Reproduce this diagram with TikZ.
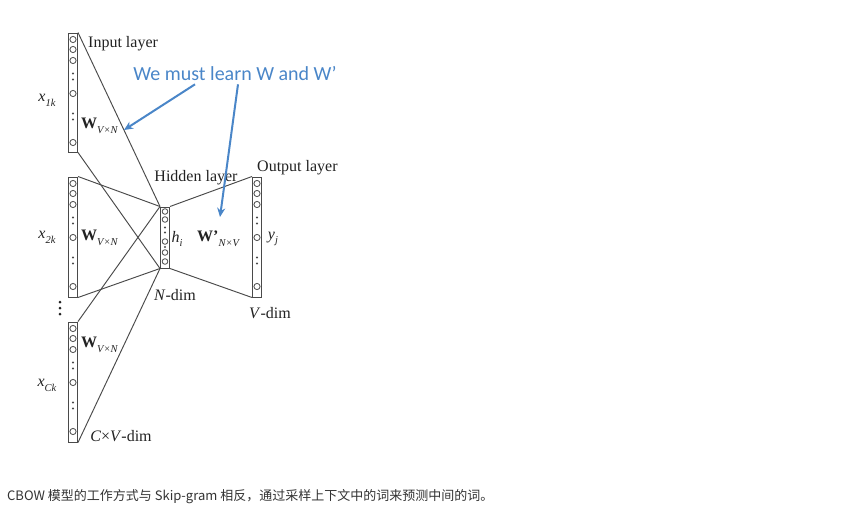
\documentclass[tikz,border=0pt]{standalone}
\usepackage{fontspec}
\setmainfont{Liberation Serif}
\newfontfamily\calib{Carlito}
\newfontfamily\cjk{Noto Sans CJK SC}
\usetikzlibrary{arrows.meta}
\definecolor{ink}{HTML}{222222}
\definecolor{edge}{HTML}{4A4A4A}
\definecolor{note}{HTML}{4A86C8}
\definecolor{captxt}{HTML}{333333}
\newcommand{\lsub}[1]{\raisebox{-0.3em}{\fontsize{10.5}{11}\selectfont\itshape #1}}
\begin{document}
\begin{tikzpicture}[x=1pt,y=-1pt,
  layer/.style={draw=edge, line width=1pt, minimum width=9pt, inner sep=0pt, fill=white},
  conn/.style={draw=edge, line width=0.95pt},
  unit/.style={draw=edge, line width=0.8pt},
  lbl/.style={text=ink, font=\fontsize{16}{18}\selectfont, inner sep=0pt},
  bluearrow/.style={draw=note, line width=2pt, -{Stealth[length=9pt,width=8pt]}},
]
\useasboundingbox (0,0) rectangle (843,514);

% layers
\node[layer, minimum height=119pt] (in1) at (73,92.5) {};
\node[layer, minimum height=120pt] (in2) at (73,237) {};
\node[layer, minimum height=120pt] (in3) at (73,382) {};
\node[layer, minimum height=61pt] (hid) at (165,237.5) {};
\node[layer, minimum height=120pt] (out) at (257,237) {};

% connectors
\foreach \c in {in1,in2,in3} {
  \draw[conn] (\c.north east) -- (hid.north west);
  \draw[conn] (\c.south east) -- (hid.south west);
}
\draw[conn] (hid.north east) -- (out.north west);
\draw[conn] (hid.south east) -- (out.south west);

% units
\foreach \c in {in1,in2,in3,out} {
  \foreach \o in {7,17,28,61,110} \draw[unit] ([yshift=-\o pt]\c.north) circle (3.1pt);
  \foreach \o in {41,47,81,87} \fill[edge] ([yshift=-\o pt]\c.north) circle (1.2pt);
}
\foreach \o in {5,13,35,46,55} \draw[unit] ([yshift=-\o pt]hid.north) circle (2.8pt);
\foreach \o in {21,26,40.5} \fill[edge] ([yshift=-\o pt]hid.north) circle (1.2pt);

% vertical ellipsis
\foreach \y in {302,308,314} \fill[ink] (60,\y) circle (1.5pt);

% labels
\node[lbl, anchor=west] (tin) at (88,44) {Input layer};
\node[lbl] (thid) at (196,178) {Hidden layer};
\node[lbl, anchor=west] (tout) at (257,168) {Output layer};
\node[lbl] (x1) at (47,100) {\itshape x\lsub{1k}};
\node[lbl] (x2) at (47,237) {\itshape x\lsub{2k}};
\node[lbl] (x3) at (47,385) {\itshape x\lsub{Ck}};
\node[lbl, anchor=west] (w1) at (81,126) {\textbf{W}\lsub{V×N}};
\node[lbl, anchor=west] (w2) at (81,238) {\textbf{W}\lsub{V×N}};
\node[lbl, anchor=west] (w3) at (81,345) {\textbf{W}\lsub{V×N}};
\node[lbl, anchor=west] (wp) at (197,239) {\textbf{W’}\lsub{N×V}};
\node[lbl] (hi) at (177,239) {\itshape h\lsub{i}};
\node[lbl] (yj) at (273,239) {\itshape y\lsub{j}};
\node[lbl] (nd) at (175,295) {\textit{N}-dim};
\node[lbl] (vd) at (270,313) {\textit{V}-dim};
\node[lbl] (cvd) at (121,436) {\textit{C}×\textit{V}-dim};

% note and arrows
\node[text=note, font=\calib\fontsize{20}{24}\selectfont, inner sep=0pt] (note) at (235,74) {We must learn W and W’};
\coordinate (a1) at (124,130);
\coordinate (a2) at (220,217);
\draw[bluearrow] ([xshift=-40pt,yshift=-3pt]note.south) -- (a1);
\draw[bluearrow] ([xshift=3pt,yshift=-3pt]note.south) -- (a2);

% caption
\node[anchor=west, font=\cjk\fontsize{13}{15}\selectfont, text=captxt, inner sep=0pt] (cap) at (7,497) {CBOW 模型的工作方式与 Skip-gram 相反，通过采样上下文中的词来预测中间的词。};
\end{tikzpicture}
\end{document}
